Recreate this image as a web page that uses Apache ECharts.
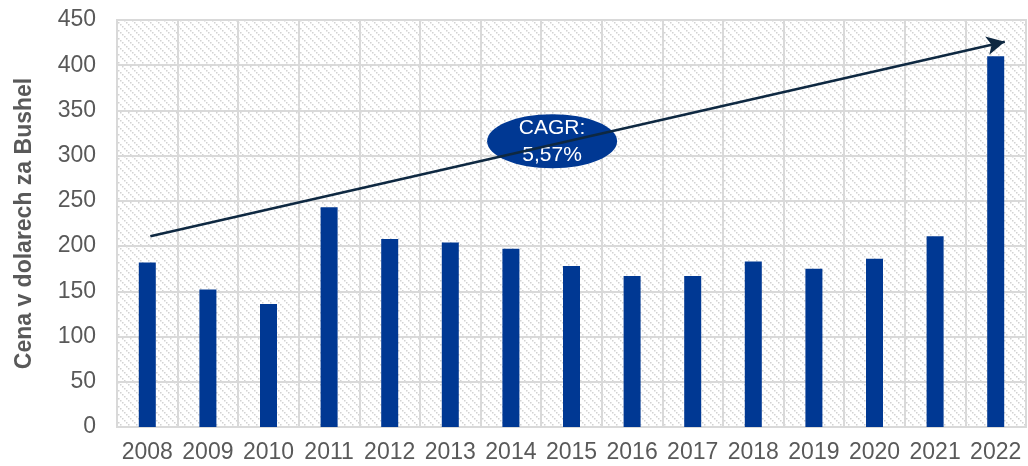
<!DOCTYPE html>
<html><head><meta charset="utf-8">
<script src="https://cdn.jsdelivr.net/npm/echarts@6/dist/echarts.min.js"></script>
<style>html,body{margin:0;padding:0;background:#fff}#c{width:1028px;height:466px}</style>
</head><body><div id="c"></div>
<script>
var years = ['2008','2009','2010','2011','2012','2013','2014','2015','2016','2017','2018','2019','2020','2021','2022'];
var prices = [182, 152, 136, 243, 208, 204, 197, 178, 167, 167, 183, 175, 186, 211, 410];
var yTicks = [0, 50, 100, 150, 200, 250, 300, 350, 400, 450];
var trendStart = [0.05, 211];
var trendEnd = [14.15, 426];
var cagrLabel = ['CAGR:', '5,57%'];
var cagrPos = [6.68, 316];

var pc = document.createElement('canvas');
pc.width = 8; pc.height = 8;
var g = pc.getContext('2d');
g.fillStyle = '#ffffff'; g.fillRect(0,0,8,8);
g.fillStyle = '#d2d2d2';
for (var i = 0; i < 8; i += 2) { g.fillRect(i, i, 1.5, 1.5); }

var chart = echarts.init(document.getElementById('c'));
var font = '"Liberation Sans", Arial, sans-serif';
chart.setOption({
  animation: false,
  grid: {left: 117, right: 2, top: 20, bottom: 39, show: true,
         backgroundColor: {image: pc, repeat: 'repeat'},
         borderColor: '#d9d9d9', borderWidth: 2},
  xAxis: [{
    type: 'category', data: years,
    axisLine: {show: false}, axisTick: {show: false},
    splitLine: {show: true, interval: 0, lineStyle: {color: '#d9d9d9', width: 2}},
    axisLabel: {color: '#595959', fontSize: 23, fontFamily: font, margin: 14, interval: 0}
  }, {
    type: 'value', min: -0.5, max: 14.5, show: false
  }],
  yAxis: {
    type: 'value', min: yTicks[0], max: yTicks[yTicks.length-1], interval: 50,
    name: 'Cena v dolarech za Bushel', nameLocation: 'middle', nameGap: 81, nameRotate: 90,
    nameTextStyle: {color: '#595959', fontSize: 23, fontWeight: 'bold', fontFamily: font},
    axisLine: {show: false}, axisTick: {show: false},
    splitLine: {show: true, lineStyle: {color: '#d9d9d9', width: 2}},
    axisLabel: {color: '#595959', fontSize: 23, fontFamily: font, margin: 21}
  },
  series: [{
    type: 'bar', data: prices, barWidth: 17, xAxisIndex: 0,
    itemStyle: {color: '#003893'}
  }, {
    type: 'line', xAxisIndex: 1, data: [], silent: true,
    markLine: {
      silent: true, symbol: ['none', 'arrow'], symbolSize: [14, 18],
      label: {show: false},
      lineStyle: {color: '#0e2841', width: 2.5, type: 'solid'},
      data: [[{coord: trendStart}, {coord: trendEnd}]]
    }
  }]
});
var p = chart.convertToPixel({xAxisIndex: 1, yAxisIndex: 0}, cagrPos);
chart.setOption({graphic: [{
  type: 'group', x: p[0], y: p[1], z: 100, children: [
    {type: 'ellipse', shape: {cx: 0, cy: 0, rx: 65, ry: 27}, style: {fill: '#003893'}},
    {type: 'text', x: 0, y: 1, style: {text: cagrLabel.join('\n'), fill: '#ffffff', fontSize: 21,
      fontFamily: font, align: 'center', verticalAlign: 'middle', lineHeight: 27}}
  ]}]});
</script></body></html>
